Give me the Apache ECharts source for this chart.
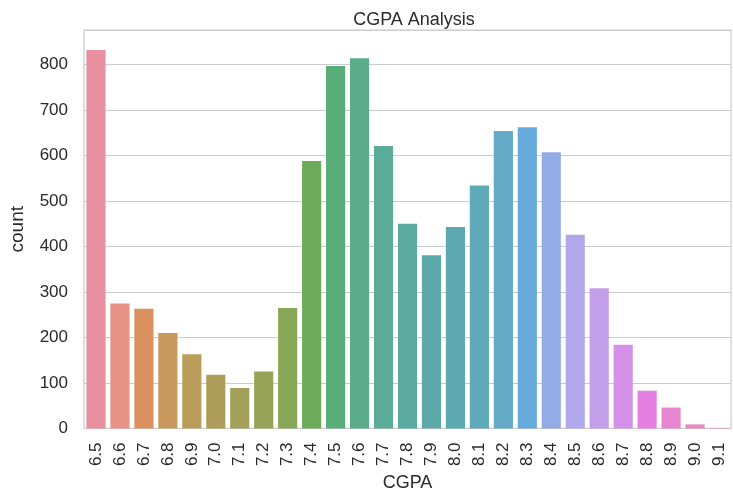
<!DOCTYPE html>
<html>
<head>
<meta charset="utf-8">
<script src="https://cdn.jsdelivr.net/npm/echarts@6/dist/echarts.min.js"></script>
<style>
html,body{margin:0;padding:0;background:#fff;}
#chart{width:733px;height:497px;}
</style>
</head>
<body>
<div id="chart"></div>
<script>
var categories = ['6.5','6.6','6.7','6.8','6.9','7.0','7.1','7.2','7.3','7.4','7.5','7.6','7.7','7.8','7.9','8.0','8.1','8.2','8.3','8.4','8.5','8.6','8.7','8.8','8.9','9.0','9.1'];
var counts = [832,275,263,210,163,118,89,125,265,588,797,814,621,450,381,443,534,654,662,607,426,308,184,83,46,9,1];
var yTicks = [0,100,200,300,400,500,600,700,800];

// seaborn husl palette (desaturated 0.75) — styling only
var M = [[3.2406,-1.5372,-0.4986],[-0.9689,1.8758,0.0415],[0.0557,-0.2040,1.0570]];
var refU=0.19784, refV=0.46834, kappa=903.2962962, eps=0.0088564516;
function maxChroma(L,H){
  var hr=H/360*2*Math.PI, sinH=Math.sin(hr), cosH=Math.cos(hr);
  var sub1=Math.pow(L+16,3)/1560896, sub2=sub1>eps?sub1:L/kappa, res=Infinity;
  for(var i=0;i<3;i++){
    var m1=M[i][0],m2=M[i][1],m3=M[i][2];
    var top=(0.99915*m1+1.05122*m2+1.14460*m3)*sub2;
    var rb=0.86330*m3-0.17266*m2, lb=0.12949*m3-0.38848*m1;
    var bottom=(rb*sinH+lb*cosH)*sub2;
    for(var t=0;t<2;t++){
      var C=L*(top-1.05122*t)/(bottom+0.17266*sinH*t);
      if(C>0&&C<res)res=C;
    }
  }
  return res;
}
function fInv(t){return Math.pow(t,3)>eps?Math.pow(t,3):(116*t-16)/kappa;}
function fromLin(c){return c<=0.0031308?12.92*c:1.055*Math.pow(c,1/2.4)-0.055;}
function huslToRgb(h,s,l){
  var C=maxChroma(l,h)/100*s, hr=h/360*2*Math.PI;
  var U=Math.cos(hr)*C, V=Math.sin(hr)*C;
  var Y=fInv((l+16)/116), vu=U/(13*l)+refU, vv=V/(13*l)+refV;
  var X=0-(9*Y*vu)/((vu-4)*vv-vu*vv);
  var Z=(9*Y-15*vv*Y-vv*X)/(3*vv);
  return M.map(function(r){var v=fromLin(r[0]*X+r[1]*Y+r[2]*Z);return Math.min(1,Math.max(0,v));});
}
function rgbToHls(r,g,b){
  var mx=Math.max(r,g,b), mn=Math.min(r,g,b), l=(mx+mn)/2;
  if(mx===mn)return [0,l,0];
  var d=mx-mn, s=l<=0.5?d/(mx+mn):d/(2-mx-mn);
  var rc=(mx-r)/d, gc=(mx-g)/d, bc=(mx-b)/d, h;
  if(r===mx)h=bc-gc; else if(g===mx)h=2+rc-bc; else h=4+gc-rc;
  h=((h/6)%1+1)%1;
  return [h,l,s];
}
function v_(m1,m2,hue){hue=((hue%1)+1)%1;if(hue<1/6)return m1+(m2-m1)*hue*6;if(hue<0.5)return m2;if(hue<2/3)return m1+(m2-m1)*(2/3-hue)*6;return m1;}
function hlsToRgb(h,l,s){
  if(s===0)return [l,l,l];
  var m2=l<=0.5?l*(1+s):l+s-l*s, m1=2*l-m2;
  return [v_(m1,m2,h+1/3),v_(m1,m2,h),v_(m1,m2,h-1/3)];
}
function palette(n){
  var out=[];
  for(var i=0;i<n;i++){
    var h=((i/n+0.01)%1)*359;
    var rgb=huslToRgb(h,0.9*99,0.65*99);
    var hls=rgbToHls(rgb[0],rgb[1],rgb[2]);
    var d=hlsToRgb(hls[0],hls[1],hls[2]*0.75);
    out.push('rgb('+d.map(function(c){return Math.round((c+(1-c)*0.12)*255);}).join(',')+')');
  }
  return out;
}
var colors = palette(categories.length);

var FONT = 'Liberation Sans';
var chart = echarts.init(document.getElementById('chart'));
chart.setOption({
  animation:false,
  backgroundColor:'#ffffff',
  title:{text:'CGPA Analysis',left:'409',textAlign:'center',top:6,
    textStyle:{fontFamily:FONT,fontSize:18,fontWeight:'normal',color:'#2a2a2a'}},
  grid:{left:83,right:2,top:30,bottom:66,show:true,borderColor:'#cccccc',borderWidth:1.2,containLabel:false},
  xAxis:{type:'category',data:categories,
    axisLine:{show:false},axisTick:{show:false},
    axisLabel:{rotate:90,margin:14,fontFamily:FONT,fontSize:17,color:'#2a2a2a'},
    name:'CGPA',nameLocation:'middle',nameGap:43,
    nameTextStyle:{fontFamily:FONT,fontSize:18,color:'#2a2a2a'}},
  yAxis:{type:'value',min:0,max:876,interval:100,
    axisLine:{show:false},axisTick:{show:false},
    axisLabel:{showMaxLabel:false,margin:16,fontFamily:FONT,fontSize:17,color:'#2a2a2a',
      formatter:function(v){return yTicks.indexOf(v)>=0?String(v):'';}},
    splitLine:{lineStyle:{color:'#cccccc',width:1.2}},
    name:'count',nameLocation:'middle',nameGap:57,
    nameTextStyle:{fontFamily:FONT,fontSize:19,color:'#2a2a2a'}},
  series:[{type:'bar',barCategoryGap:'20%',
    data:counts.map(function(v,i){return {value:v,itemStyle:{color:colors[i]}};})}]
});
</script>
</body>
</html>
